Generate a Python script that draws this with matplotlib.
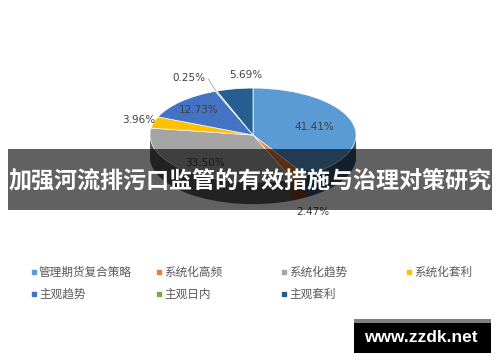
import numpy as np
import matplotlib.pyplot as plt
import matplotlib.colors as mcolors
from matplotlib.patches import Rectangle

plt.rcParams['font.family'] = ['Noto Sans CJK SC', 'DejaVu Sans']

# -----------------------------
# Data
# -----------------------------
labels = ["管理期货复合策略", "系统化高频", "系统化趋势", "系统化套利",
          "主观趋势", "主观日内", "主观套利"]
shares = [41.41, 2.47, 33.50, 3.96, 12.73, 0.25, 5.69]
colors = ["#5B9BD5", "#ED7D31", "#A5A5A5", "#FFC000",
          "#4472C4", "#70AD47", "#255E91"]

TITLE = "加强河流排污口监管的有效措施与治理对策研究"
WATERMARK = "www.zzdk.net"

# label distance from centre, in pie radii (outside labels > 1)
LABEL_R = [0.62, 1.3, 0.75, 1.15, 0.75, 1.3, 1.3]
LABEL_HA = ['center', 'center', 'center', 'center', 'center', 'right', 'left']
DEPTH = 0.47       # thickness of the pie, in y units
N_LAYERS = 30

fig = plt.figure(figsize=(5, 3.62), dpi=100)

# -----------------------------
# 3D-ish pie: stacked darker layers, then the top face
# -----------------------------
ax = fig.add_axes([0.094, 0.3674, 0.824, 0.519])
side_colors = [tuple(c * 0.55 for c in mcolors.to_rgb(col)) for col in colors]
for d in np.linspace(DEPTH, 0.01, N_LAYERS):
    ax.pie(shares, colors=side_colors, startangle=90, counterclock=False,
           center=(0, -d), wedgeprops=dict(linewidth=0))

wedges, texts, autotexts = ax.pie(
    shares, colors=colors, startangle=90, counterclock=False,
    autopct='%.2f%%', wedgeprops=dict(edgecolor='white', linewidth=0.5),
    textprops=dict(fontsize=7.5, color='#404040', family='DejaVu Sans'))

for w, t, r, ha in zip(wedges, autotexts, LABEL_R, LABEL_HA):
    mid = np.deg2rad((w.theta1 + w.theta2) / 2)
    x, y = r * np.cos(mid), r * np.sin(mid)
    if r > 1 and y < 0:
        y -= DEPTH
    t.set_position((x, y))
    t.set_ha(ha)

# leader line for the tiny slice
i_small = int(np.argmin(shares))
w = wedges[i_small]
mid = np.deg2rad((w.theta1 + w.theta2) / 2)
lx, ly = autotexts[i_small].get_position()
ax.plot([np.cos(mid), lx + 0.03], [np.sin(mid), ly - 0.02],
        color='#a6a6a6', lw=0.6)

ax.set_aspect('auto')
ax.set_xlim(-2, 2)
ax.set_ylim(-2, 2)

# -----------------------------
# Overlay: banner, legend, watermark (pixel coords)
# -----------------------------
ov = fig.add_axes([0, 0, 1, 1], zorder=5)
ov.set_xlim(0, 500)
ov.set_ylim(362, 0)
ov.axis('off')

ov.add_patch(Rectangle((8, 149), 484, 61, color='black', alpha=0.62, lw=0))
ov.text(250, 182, TITLE, color='white', fontsize=16.6, fontweight='bold',
        ha='center', va='center')

for i, (lab, col) in enumerate(zip(labels, colors)):
    row, c = divmod(i, 4)
    x = 34 + c * 125
    y = 272 + row * 22
    ov.plot([x], [y], marker='s', ms=2.4, color=col, lw=0)
    ov.text(x + 5, y, lab, fontsize=8.4, color='#595959',
            ha='left', va='center')

ov.add_patch(Rectangle((354, 319), 137, 4, color='#7f7f7f', lw=0))
ov.add_patch(Rectangle((354, 323), 137, 30, color='black', lw=0))
ov.text(421, 337, WATERMARK, color='white', fontsize=12.5, fontweight='bold',
        family='Liberation Sans', ha='center', va='center')

fig.savefig("out.png", dpi=100)
